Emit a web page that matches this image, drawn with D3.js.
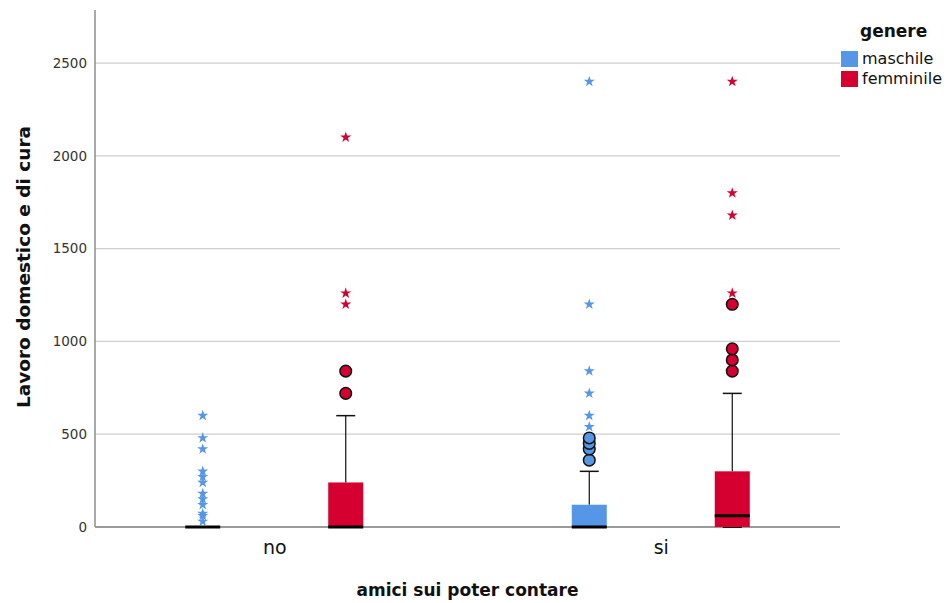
<!DOCTYPE html>
<html>
<head>
<meta charset="utf-8">
<script src="https://cdn.jsdelivr.net/npm/d3@7"></script>
<style>
  html, body { margin: 0; padding: 0; background: #fff; }
  svg { display: block; font-family: "DejaVu Sans", sans-serif; }
</style>
</head>
<body>
<svg id="chart" width="949" height="603"></svg>
<script>
// ---- data ----
const categories = ["no", "si"];
const genders = ["maschile", "femminile"];
const genderColors = ["#5596e6", "#d5002f"];
const yTicks = [0, 500, 1000, 1500, 2000, 2500];

const boxCategory = ["no", "no", "si", "si"];
const boxGender = ["maschile", "femminile", "maschile", "femminile"];
const boxQ1 = [0, 0, 0, 0];
const boxMedian = [0, 0, 0, 60];
const boxQ3 = [0, 240, 120, 300];
const whiskerLow = [0, 0, 0, 0];
const whiskerHigh = [0, 600, 300, 720];
const outlierCircles = [
  [],
  [720, 840],
  [360, 420, 450, 480],
  [840, 900, 960, 1200]
];
const extremeStars = [
  [30, 60, 72, 120, 150, 180, 240, 270, 300, 420, 480, 600],
  [1200, 1260, 2100],
  [540, 600, 720, 840, 1200, 2400],
  [1260, 1680, 1800, 2400]
];

// ---- layout ----
const svg = d3.select("#chart");
const plot = { left: 95, right: 840, top: 10, bottom: 527 };

const y = d3.scaleLinear().domain([0, 2786]).range([plot.bottom, plot.top]);
const x = d3.scalePoint().domain(categories).range([plot.left, plot.right]).padding(0.4637);
const xg = d3.scalePoint().domain(genders).range([-71.5, 71.5]);
const color = d3.scaleOrdinal().domain(genders).range(genderColors);
const boxW = 35, capW = 19;

// grid lines
svg.append("g").selectAll("line").data(yTicks.filter(d => d > 0)).join("line")
  .attr("x1", plot.left).attr("x2", plot.right)
  .attr("y1", d => y(d)).attr("y2", d => y(d))
  .attr("stroke", "#cfcfcf").attr("stroke-width", 1.3);

// y axis
const yAxis = svg.append("g").attr("transform", `translate(${plot.left},0)`)
  .call(d3.axisLeft(y).tickValues(yTicks).tickFormat(d3.format("d")).tickSize(0).tickPadding(8));
yAxis.select(".domain").remove();
yAxis.selectAll("text").attr("font-size", 13.5).attr("fill", "#333")
  .attr("font-family", "DejaVu Sans, sans-serif");
svg.append("line").attr("x1", plot.left).attr("x2", plot.left)
  .attr("y1", plot.top).attr("y2", plot.bottom)
  .attr("stroke", "#8c8c8c").attr("stroke-width", 1.5);
svg.append("line").attr("x1", plot.left).attr("x2", plot.right)
  .attr("y1", plot.bottom).attr("y2", plot.bottom)
  .attr("stroke", "#9a9a9a").attr("stroke-width", 1.8);

// x axis labels
const xAxis = svg.append("g").attr("transform", `translate(0,${plot.bottom})`)
  .call(d3.axisBottom(x).tickSize(0).tickPadding(14));
xAxis.select(".domain").remove();
xAxis.selectAll("text").attr("font-size", 19).attr("fill", "#111")
  .attr("font-family", "DejaVu Sans, sans-serif");

// boxes
const boxes = boxCategory.map((c, i) => ({
  cx: x(c) + xg(boxGender[i]), g: boxGender[i],
  q1: boxQ1[i], med: boxMedian[i], q3: boxQ3[i],
  lo: whiskerLow[i], hi: whiskerHigh[i],
  circles: outlierCircles[i], stars: extremeStars[i]
}));

const bg = svg.append("g").selectAll("g").data(boxes).join("g");

// whiskers
bg.filter(d => d.hi > d.q3).append("line")
  .attr("x1", d => d.cx).attr("x2", d => d.cx)
  .attr("y1", d => y(d.q3)).attr("y2", d => y(d.hi))
  .attr("stroke", "#111").attr("stroke-width", 1.2);
bg.filter(d => d.hi > d.q3).append("line")
  .attr("x1", d => d.cx - capW / 2).attr("x2", d => d.cx + capW / 2)
  .attr("y1", d => y(d.hi)).attr("y2", d => y(d.hi))
  .attr("stroke", "#111").attr("stroke-width", 1.5);
// lower caps
bg.append("line")
  .attr("x1", d => d.cx - capW / 2).attr("x2", d => d.cx + capW / 2)
  .attr("y1", d => y(d.lo)).attr("y2", d => y(d.lo))
  .attr("stroke", "#111").attr("stroke-width", 2);

// box rect
bg.append("rect")
  .attr("x", d => d.cx - boxW / 2).attr("width", boxW)
  .attr("y", d => y(d.q3)).attr("height", d => y(d.q1) - y(d.q3))
  .attr("fill", d => color(d.g));

// median
bg.append("line")
  .attr("x1", d => d.cx - boxW / 2).attr("x2", d => d.cx + boxW / 2)
  .attr("y1", d => y(d.med)).attr("y2", d => y(d.med))
  .attr("stroke", "#000").attr("stroke-width", 3);

// outlier circles
bg.selectAll("circle").data(d => d.circles.map(v => ({ v, cx: d.cx, g: d.g }))).join("circle")
  .attr("cx", d => d.cx).attr("cy", d => y(d.v)).attr("r", 5.8)
  .attr("fill", d => color(d.g)).attr("stroke", "#111").attr("stroke-width", 1.5);

// extreme stars
const star = d3.symbol().type(d3.symbolStar).size(38);
bg.selectAll("path.star").data(d => d.stars.map(v => ({ v, cx: d.cx, g: d.g }))).join("path")
  .attr("class", "star")
  .attr("d", star)
  .attr("transform", d => `translate(${d.cx},${y(d.v)})`)
  .attr("fill", d => color(d.g));

// axis titles
svg.append("text")
  .attr("x", (plot.left + plot.right) / 2).attr("y", 596)
  .attr("text-anchor", "middle").attr("font-size", 17).attr("font-weight", "bold")
  .attr("fill", "#111").text("amici sui poter contare");
svg.append("text")
  .attr("transform", `translate(30,${267}) rotate(-90)`)
  .attr("text-anchor", "middle").attr("font-size", 18.5).attr("font-weight", "bold")
  .attr("fill", "#111").text("Lavoro domestico e di cura");

// legend
const lg = svg.append("g");
lg.append("text").attr("x", 860).attr("y", 37).attr("font-size", 17).attr("font-weight", "bold")
  .attr("fill", "#111").text("genere");
const li = lg.selectAll("g.item").data(genders).join("g").attr("class", "item")
  .attr("transform", (d, i) => `translate(841,${51 + i * 20})`);
li.append("rect").attr("width", 17).attr("height", 16).attr("fill", d => color(d));
li.append("text").attr("x", 21).attr("y", 13).attr("font-size", 16).attr("fill", "#111").text(d => d);
</script>
</body>
</html>
